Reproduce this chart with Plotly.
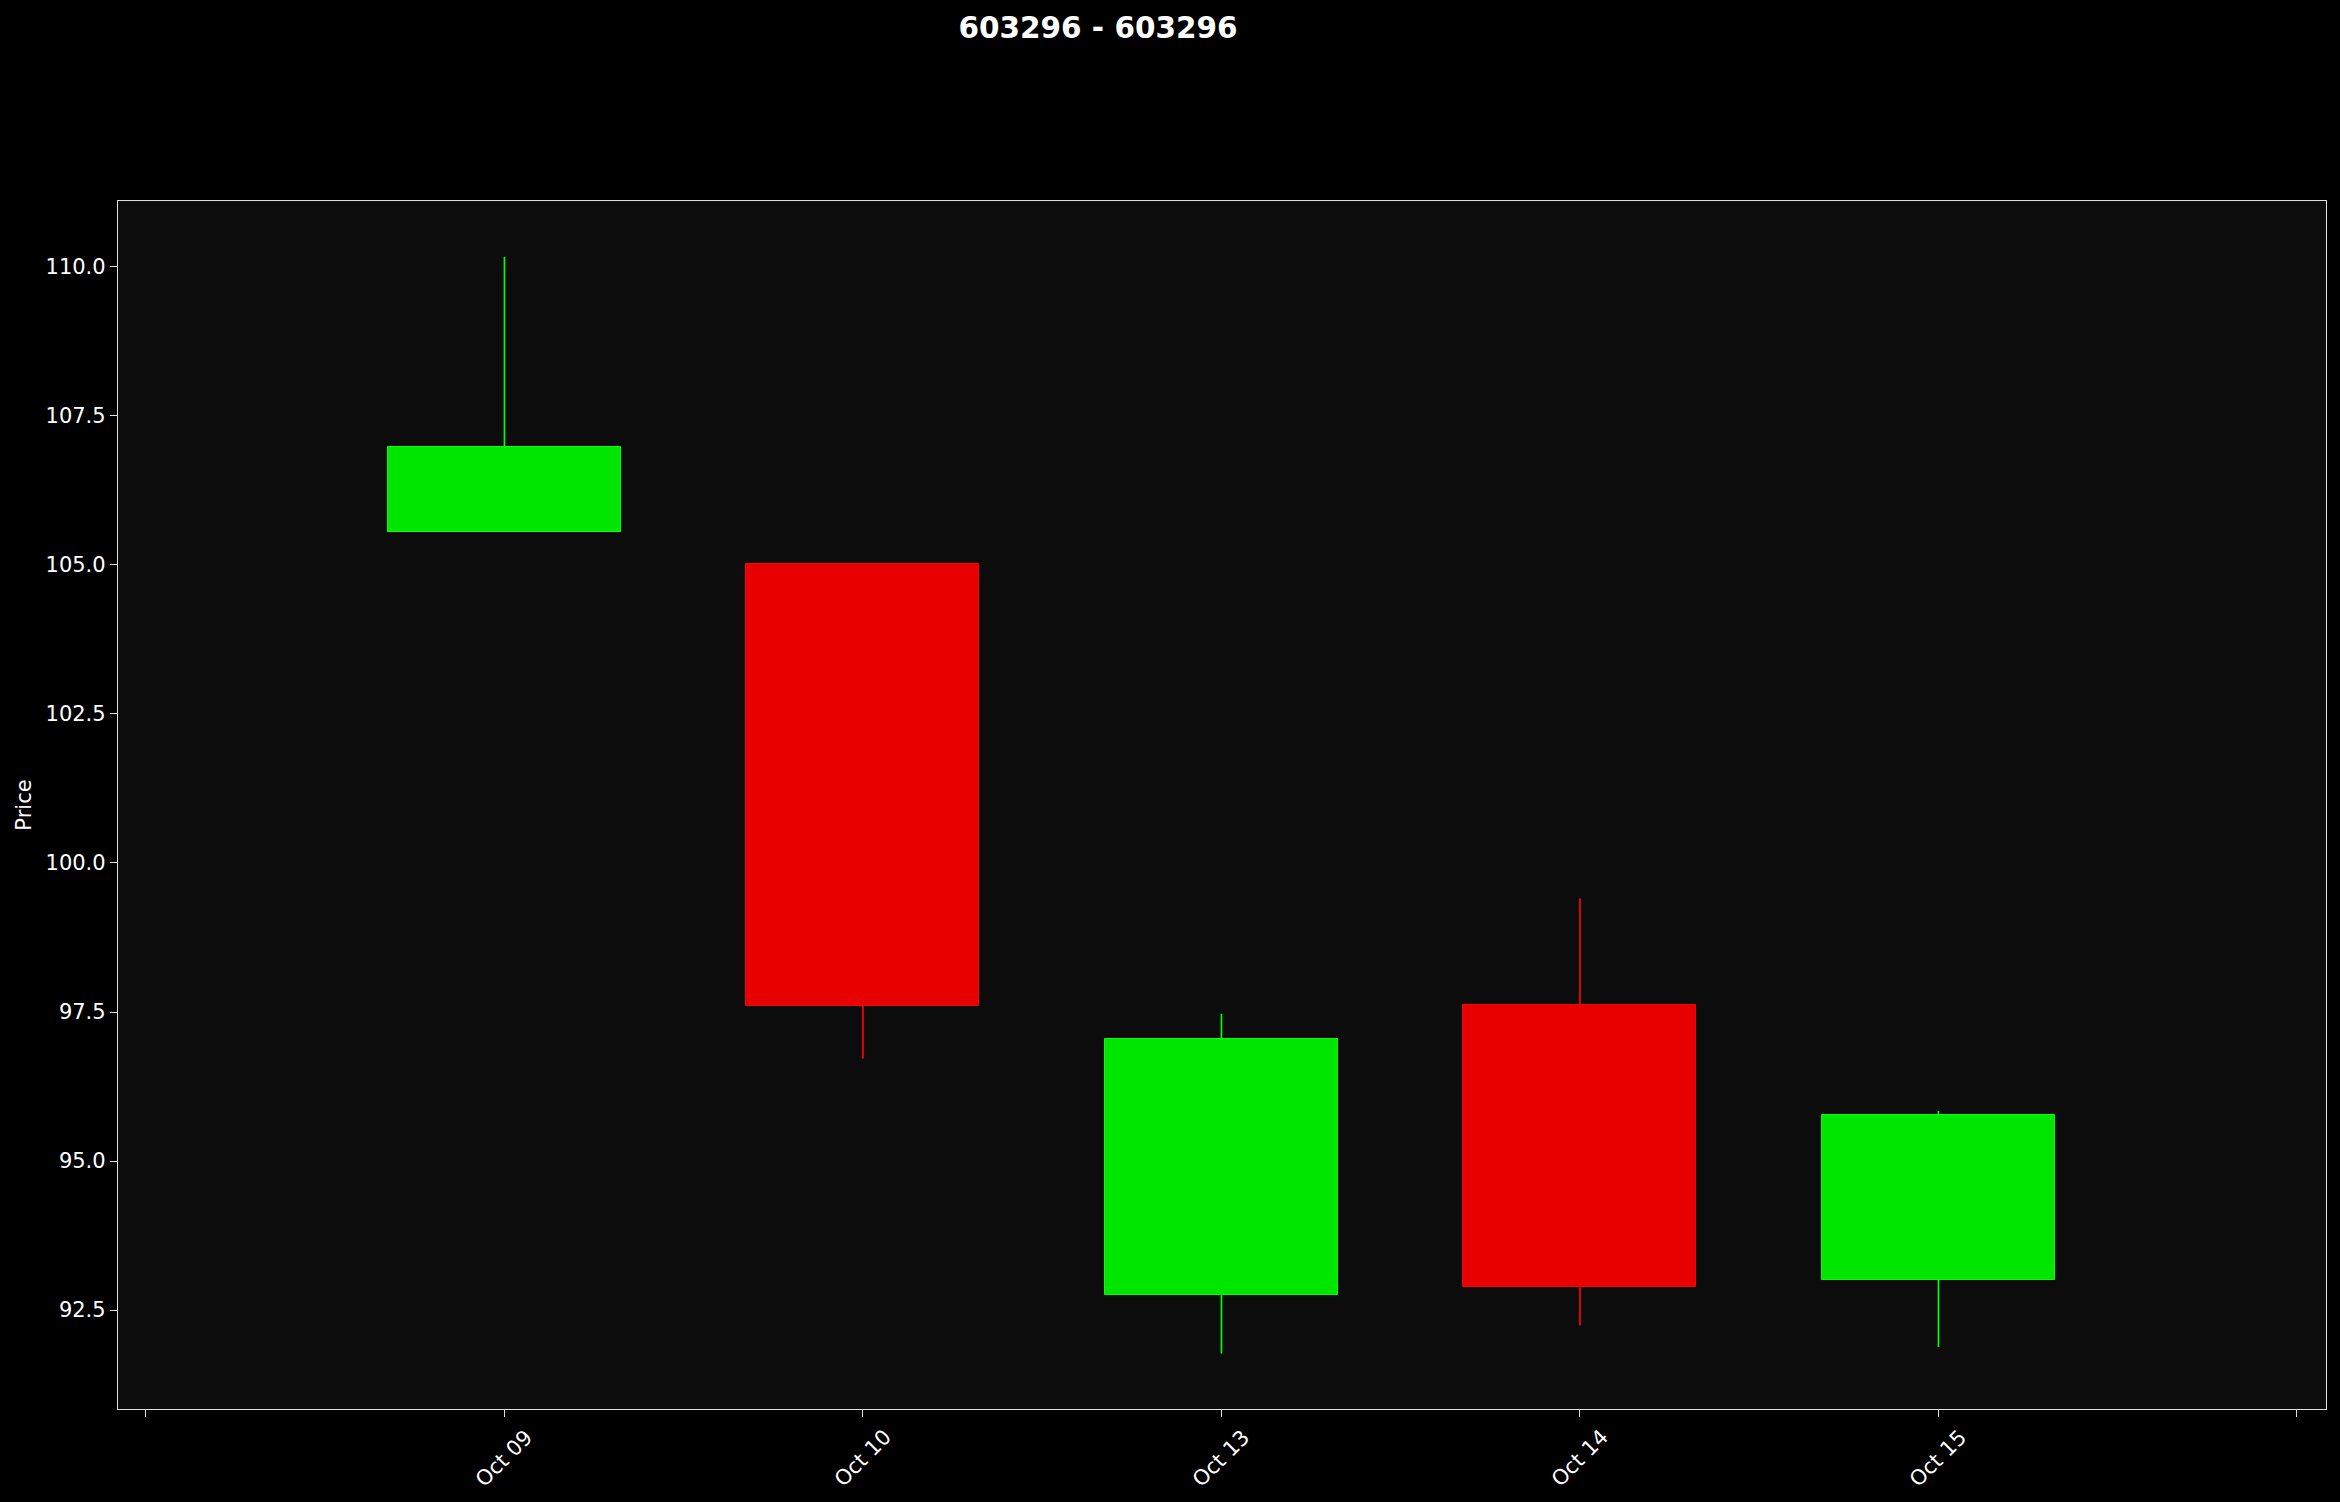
import plotly.graph_objects as go

# ---- data ----
dates = ["Oct 09", "Oct 10", "Oct 13", "Oct 14", "Oct 15"]
opens = [105.55, 105.01, 92.75, 97.61, 93.01]
highs = [110.17, 105.01, 97.47, 99.41, 95.84]
lows = [105.55, 96.72, 91.77, 92.24, 91.88]
closes = [106.975, 97.60, 97.04, 92.88, 95.77]
y_ticks = [92.5, 95.0, 97.5, 100.0, 102.5, 105.0, 107.5, 110.0]
extra_x_ticks = [-1, 5]
title_text = "603296 - 603296"
y_title = "Price"

# ---- styles ----
UP_FILL, UP_EDGE = "#00e600", "#00ff00"
DN_FILL, DN_EDGE = "#e60000", "#ff0000"
SPINE = "#e0e0e0"
FONT = "DejaVu Sans"

xs = list(range(len(dates)))
is_up = [c >= o for o, c in zip(opens, closes)]

fig = go.Figure()

# wicks (split so they sit outside the bodies)
for up_flag, col in [(True, UP_EDGE), (False, DN_EDGE)]:
    wx, wy = [], []
    for i in xs:
        if is_up[i] != up_flag:
            continue
        top = max(opens[i], closes[i])
        bot = min(opens[i], closes[i])
        if highs[i] > top:
            wx += [i, i, None]
            wy += [top, highs[i], None]
        if lows[i] < bot:
            wx += [i, i, None]
            wy += [lows[i], bot, None]
    fig.add_trace(go.Scatter(x=wx, y=wy, mode="lines",
                             line=dict(color=col, width=1.7),
                             hoverinfo="skip", showlegend=False))

# bodies
fig.add_trace(go.Bar(
    x=xs,
    y=[abs(c - o) for o, c in zip(opens, closes)],
    base=[min(o, c) for o, c in zip(opens, closes)],
    width=0.65,
    marker=dict(color=[UP_FILL if u else DN_FILL for u in is_up],
                line=dict(color=[UP_EDGE if u else DN_EDGE for u in is_up], width=1)),
    hoverinfo="skip", showlegend=False,
))

tickvals_x = [extra_x_ticks[0]] + xs + [extra_x_ticks[1]]

annotations = []
for i, d in zip(xs, dates):
    annotations.append(dict(
        x=i, y=0, xref="x", yref="paper", text=d, textangle=-45,
        xanchor="center", yanchor="top", yshift=-13, showarrow=False,
        font=dict(family=FONT, size=21, color="white"),
    ))

fig.update_layout(
    width=2340, height=1502, autosize=False,
    margin=dict(l=118, r=14, t=201, b=93, pad=0),
    paper_bgcolor="#000000",
    plot_bgcolor="#0c0c0c",
    font=dict(family=FONT, size=21, color="white"),
    title=dict(text=f"<b>{title_text}</b>", x=1098 / 2340, xref="container",
               xanchor="center", y=1 - 27.5 / 1502, yanchor="middle",
               font=dict(family=FONT, size=29.5, color="white")),
    showlegend=False,
    hovermode=False,
    annotations=annotations,
    bargap=0,
)

fig.update_xaxes(
    range=[-1.078, 5.081],
    tickmode="array", tickvals=tickvals_x, ticktext=[""] * len(tickvals_x),
    ticks="outside", ticklen=7, tickwidth=1.3, tickcolor=SPINE,
    showgrid=False, zeroline=False,
    showline=True, linecolor=SPINE, linewidth=1.3, mirror=True,
)
fig.update_yaxes(
    range=[90.839, 111.107],
    tickmode="array", tickvals=y_ticks, ticktext=[f"{v:.1f}" for v in y_ticks],
    ticks="outside", ticklen=7, tickwidth=1.3, tickcolor=SPINE,
    tickfont=dict(family=FONT, size=21, color="white"),
    showgrid=False, zeroline=False,
    showline=True, linecolor=SPINE, linewidth=1.3, mirror=True,
    title=dict(text=y_title, standoff=8, font=dict(family=FONT, size=21, color="white")),
)

fig.write_html("out.html")
